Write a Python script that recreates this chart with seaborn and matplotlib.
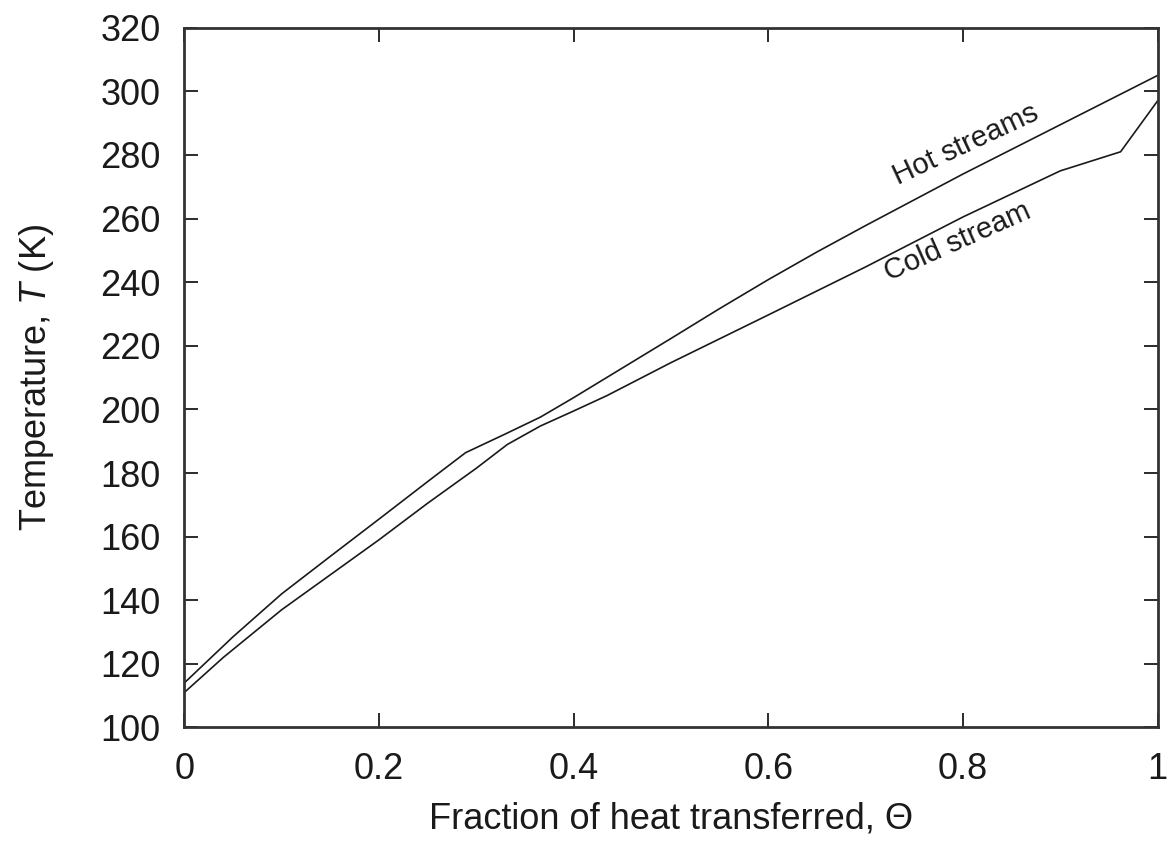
import pandas as pd
import seaborn as sns
from matplotlib import pyplot as plt
from matplotlib import ticker

# values
hot_theta = [0.0, 0.05, 0.1, 0.15, 0.2, 0.25, 0.289, 0.33, 0.366, 0.4, 0.45, 0.5, 0.55, 0.6, 0.65, 0.7, 0.8, 0.9, 1.0]
hot_temp = [114, 128.5, 142, 153.8, 165.5, 177.3, 186.4, 192.3, 197.6, 203.7, 213, 222.3, 231.7, 240.8, 249.5, 257.8, 274, 289.5, 305]

cold_theta = [0.0, 0.04, 0.1, 0.15, 0.2, 0.25, 0.3, 0.332, 0.366, 0.4, 0.434, 0.5, 0.6, 0.7, 0.8, 0.9, 0.962, 1.0]
cold_temp = [111, 122, 137, 148, 159, 170.5, 181.5, 189, 194.8, 199.5, 204.3, 214.7, 229.7, 244.8, 260.5, 275, 281, 297]

x_ticks = [0, 0.2, 0.4, 0.6, 0.8, 1]
x_tick_labels = ["0", "0.2", "0.4", "0.6", "0.8", "1"]

sns.set_theme(style="ticks")
plt.rcParams["font.family"] = ["Liberation Sans", "DejaVu Sans"]
plt.rcParams["mathtext.fontset"] = "custom"
plt.rcParams["mathtext.it"] = "Liberation Sans:italic"
plt.rcParams["mathtext.rm"] = "Liberation Sans"

df = pd.concat([
    pd.DataFrame({"theta": hot_theta, "T": hot_temp, "stream": "Hot streams"}),
    pd.DataFrame({"theta": cold_theta, "T": cold_temp, "stream": "Cold stream"}),
])

fig = plt.figure(figsize=(11.74, 8.41), dpi=100)
ax = fig.add_axes([0.157, 0.135, 0.829, 0.832])

sns.lineplot(
    data=df, x="theta", y="T", units="stream", estimator=None, sort=False,
    color="#1a1a1a", linewidth=1.2, ax=ax, legend=False,
)

ax.set_xlim(0, 1)
ax.set_ylim(100, 320)
ax.set_xticks(x_ticks)
ax.set_xticklabels(x_tick_labels)
ax.yaxis.set_major_locator(ticker.MultipleLocator(20))

ax.tick_params(direction="in", length=10, width=1.3, top=True, right=True,
               labelsize=26, colors="#1a1a1a", pad=18)
ax.tick_params(axis="y", pad=17)
for s in ax.spines.values():
    s.set_linewidth(2)
    s.set_color("#333333")

ax.set_xlabel("Fraction of heat transferred, Θ", fontsize=26, color="#1a1a1a", labelpad=10)
ax.set_ylabel("Temperature, $T$ (K)", fontsize=26, color="#1a1a1a", labelpad=32)

ax.text(0.803, 283.3, "Hot streams", rotation=25, fontsize=21, ha="center", va="center",
        color="#1a1a1a", rotation_mode="anchor")
ax.text(0.794, 252.6, "Cold stream", rotation=24, fontsize=21, ha="center", va="center",
        color="#1a1a1a", rotation_mode="anchor")

fig.savefig("out.png", dpi=100)
